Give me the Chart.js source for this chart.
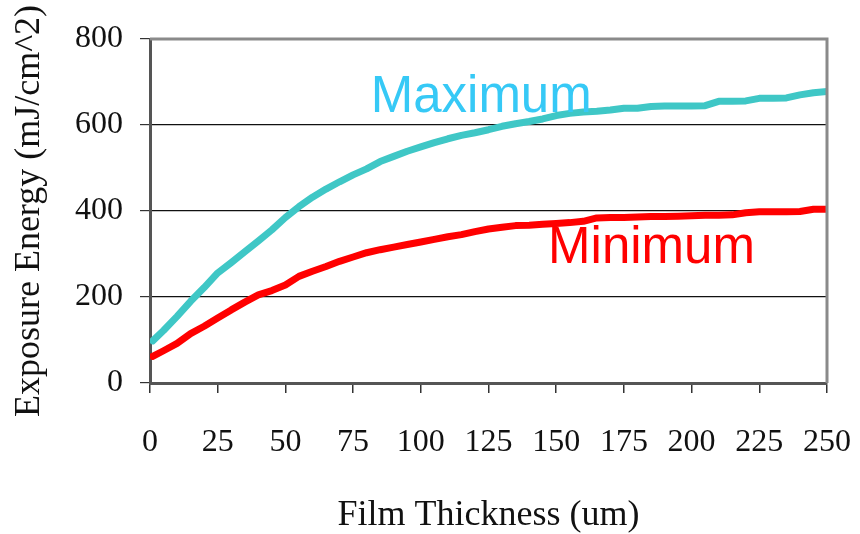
<!DOCTYPE html>
<html>
<head>
<meta charset="utf-8">
<script src="https://cdn.jsdelivr.net/npm/chart.js@4"></script>
<style>
  html, body { margin: 0; padding: 0; background: #fff; }
  #chart { display: block; }
</style>
</head>
<body>
<canvas id="chart" width="860" height="534"></canvas>
<script>
// film thickness (um)
const thickness = [1, 5, 10, 15, 20, 25, 30, 35, 40, 45, 50, 55, 60, 65, 70, 75, 80, 85, 90, 95,
  100, 105, 110, 115, 120, 125, 130, 135, 140, 145, 150, 155, 160, 165, 170, 175, 180, 185, 190, 195,
  200, 205, 210, 215, 220, 225, 230, 235, 240, 245, 250];

// exposure energy (mJ/cm^2)
const maximumEnergy = [98, 122, 155, 190, 222, 256, 280, 305, 330, 356, 385, 410, 432, 451, 468, 484, 498, 515, 527, 539,
  549, 559, 568, 576, 582, 589, 597, 603, 608, 614, 622, 627, 630, 632, 635, 639, 639, 643, 644, 644,
  644, 645, 655, 655, 656, 662, 662, 663, 670, 675, 678];
const minimumEnergy = [62, 75, 92, 115, 132, 151, 170, 188, 205, 215, 228, 248, 260, 271, 283, 293, 303, 310, 316, 322,
  328, 334, 340, 345, 352, 358, 362, 366, 367, 369, 371, 373, 376, 384, 385, 385, 386, 387, 387, 388,
  389, 390, 390, 391, 396, 398, 398, 398, 399, 404, 404];

const xTicks = [0, 25, 50, 75, 100, 125, 150, 175, 200, 225, 250];
const yTicks = [0, 200, 400, 600, 800];

// curve names written inside the plot, anchored in data units
const seriesNames = ['Maximum', 'Minimum'];
const nameAnchorX = [81.5, 147];
const nameAnchorY = [630, 279];

const MAX_LINE = '#3fc7c6';
const MAX_TEXT = '#36c9f6';
const MIN_COLOR = '#ff0000';
const SERIF = '"Liberation Serif", "DejaVu Serif", serif';

function toPoints(xs, ys) {
  return xs.map((x, i) => ({ x: x, y: ys[i] }));
}

const frameAndNames = {
  id: 'frameAndNames',
  afterDraw(chart) {
    const { ctx, chartArea: a, scales } = chart;
    ctx.save();
    // top + right frame
    ctx.strokeStyle = '#8a8a8a';
    ctx.lineWidth = 3;
    ctx.beginPath();
    ctx.moveTo(a.left, a.top);
    ctx.lineTo(a.right, a.top);
    ctx.lineTo(a.right, a.bottom);
    ctx.stroke();

    ctx.font = '51px "Liberation Sans", Arial, sans-serif';
    ctx.textAlign = 'left';
    ctx.textBaseline = 'alphabetic';
    const colors = [MAX_TEXT, MIN_COLOR];
    seriesNames.forEach((name, i) => {
      ctx.fillStyle = colors[i];
      ctx.fillText(name, scales.x.getPixelForValue(nameAnchorX[i]), scales.y.getPixelForValue(nameAnchorY[i]));
    });
    ctx.restore();
  }
};

new Chart(document.getElementById('chart'), {
  type: 'line',
  data: {
    datasets: [
      {
        label: seriesNames[0],
        data: toPoints(thickness, maximumEnergy),
        borderColor: MAX_LINE,
        borderWidth: 7,
        pointRadius: 0,
        tension: 0,
        borderCapStyle: 'round',
        borderJoinStyle: 'round'
      },
      {
        label: seriesNames[1],
        data: toPoints(thickness, minimumEnergy),
        borderColor: MIN_COLOR,
        borderWidth: 7,
        pointRadius: 0,
        tension: 0,
        borderCapStyle: 'round',
        borderJoinStyle: 'round'
      }
    ]
  },
  options: {
    responsive: false,
    animation: false,
    layout: { padding: { top: 39, right: 33, left: 0, bottom: 0 } },
    plugins: {
      legend: { display: false },
      tooltip: { enabled: false }
    },
    scales: {
      x: {
        type: 'linear',
        min: 0,
        max: 250,
        afterFit: (scale) => {
          scale.height = 151;
          scale.paddingLeft = 0;
          scale.paddingRight = 0;
        },
        afterBuildTicks: (scale) => { scale.ticks = xTicks.map(v => ({ value: v })); },
        border: { display: true, color: '#555', width: 3 },
        grid: { drawOnChartArea: false, drawTicks: true, tickLength: 10, tickColor: '#333', lineWidth: 1.5 },
        ticks: { color: '#111', padding: 30, maxRotation: 0, font: { family: SERIF, size: 32 } },
        title: {
          display: true,
          text: 'Film Thickness (um)',
          color: '#111',
          padding: { top: 0, bottom: 0 },
          font: { family: SERIF, size: 36, lineHeight: 1.05 }
        }
      },
      y: {
        min: 0,
        max: 800,
        afterFit: (scale) => {
          scale.width = 150;
          scale.paddingTop = 0;
          scale.paddingBottom = 0;
        },
        afterBuildTicks: (scale) => { scale.ticks = yTicks.map(v => ({ value: v })); },
        border: { display: true, color: '#555', width: 3 },
        grid: {
          color: (c) => (c.tick && (c.tick.value === 0 || c.tick.value === 800)) ? 'rgba(0,0,0,0)' : '#111',
          lineWidth: 1.2,
          drawTicks: true,
          tickLength: 10,
          tickColor: '#333'
        },
        ticks: { color: '#111', padding: 17, font: { family: SERIF, size: 32 } },
        title: {
          display: true,
          text: 'Exposure Energy (mJ/cm^2)',
          color: '#111',
          padding: { top: 8, bottom: 0 },
          font: { family: SERIF, size: 36 }
        }
      }
    }
  },
  plugins: [frameAndNames]
});
</script>
</body>
</html>
